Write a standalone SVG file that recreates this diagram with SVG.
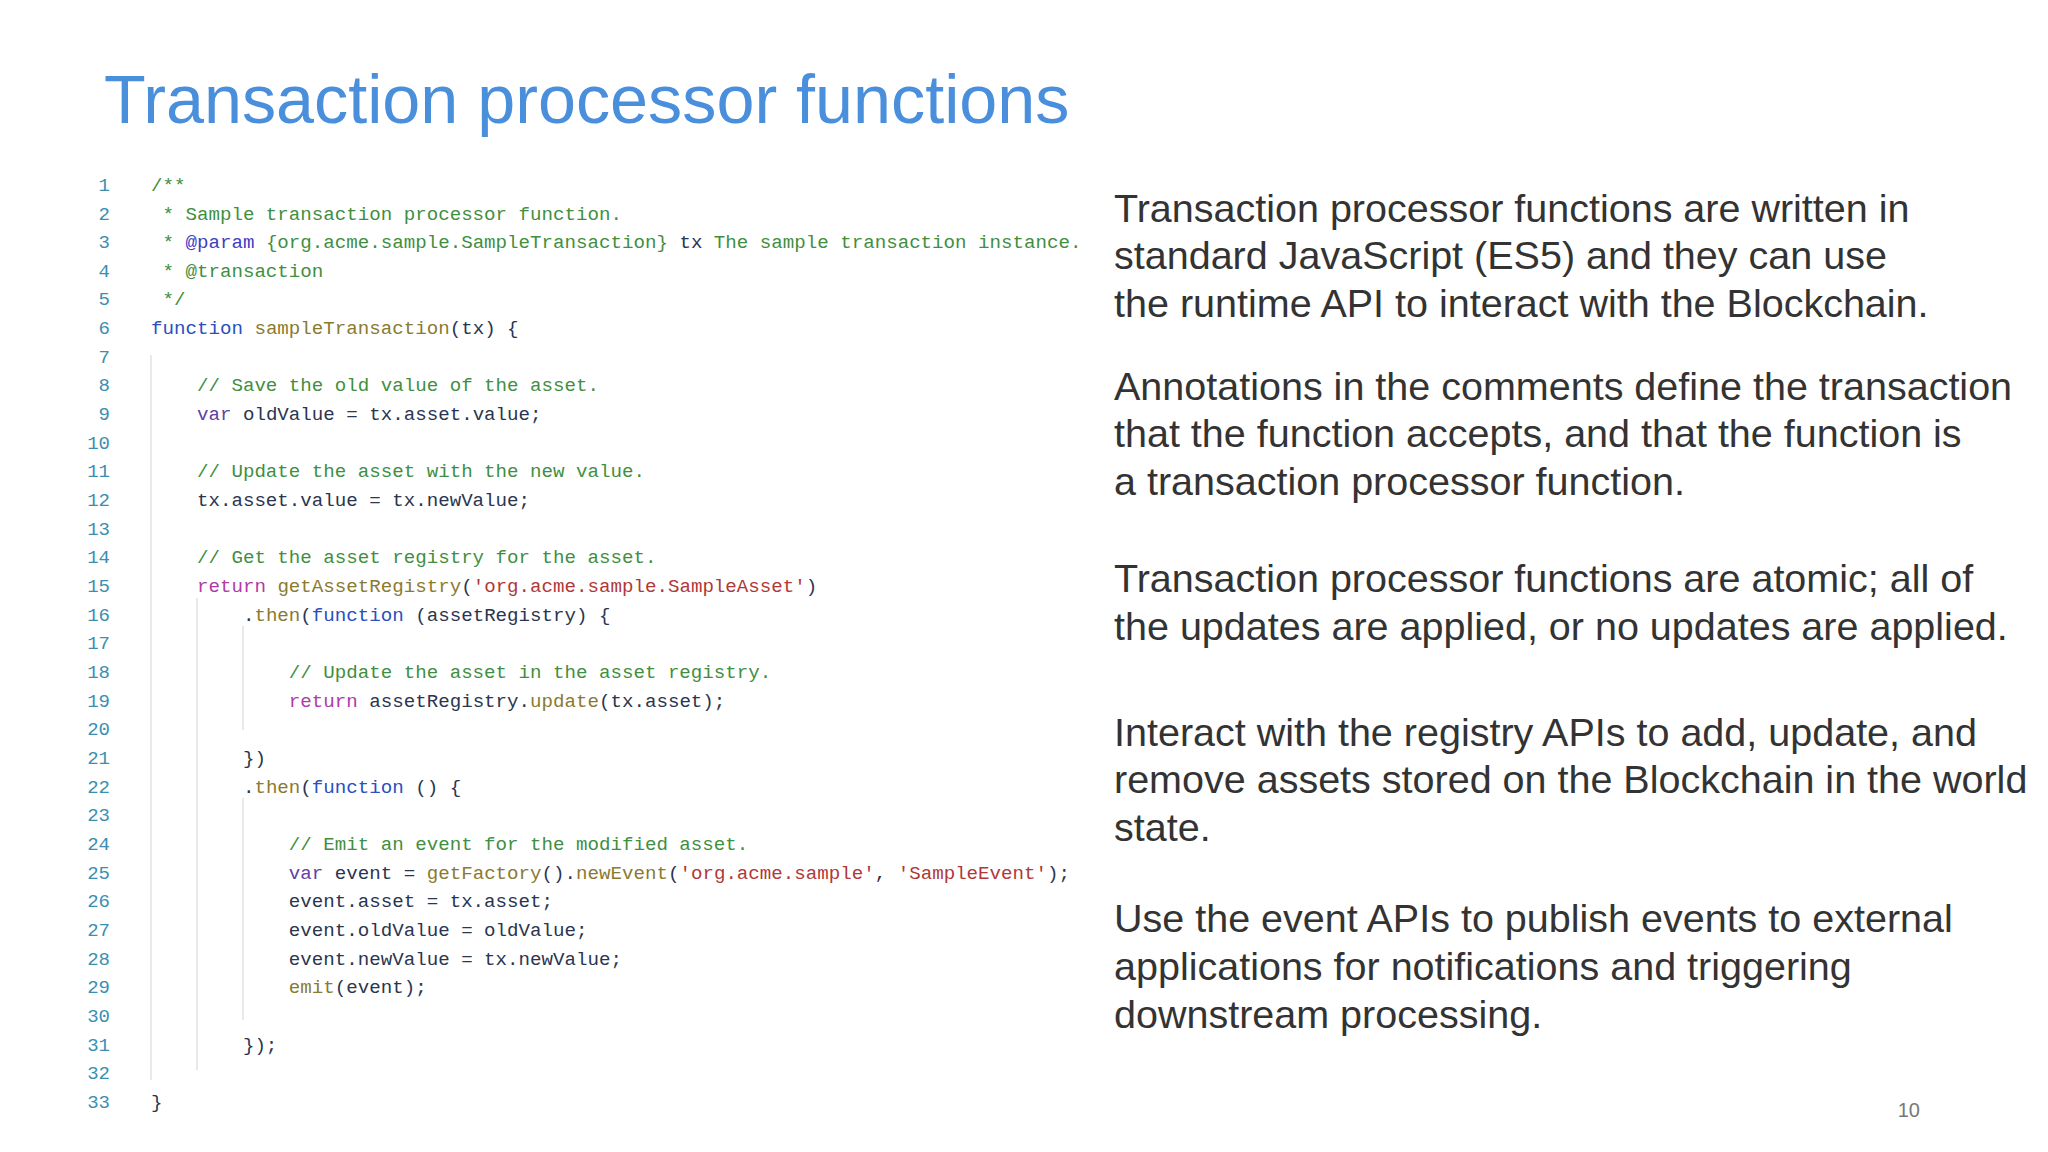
<svg xmlns="http://www.w3.org/2000/svg" width="2048" height="1152" viewBox="0 0 2048 1152">
<style>
.t{font-family:"Liberation Sans",Arial,sans-serif;font-size:39.5px;fill:#333}
.c{font-family:"Liberation Mono",monospace;font-size:19.15px;fill:#2a3550;white-space:pre}
.n{font-family:"Liberation Mono",monospace;font-size:19px;fill:#3a8fb0;text-anchor:end}
.cm{fill:#3f8f3f}.kf{fill:#2850c0}.kv{fill:#6040a8}.kr{fill:#b03aa8}.s{fill:#b03838}.m{fill:#8a7a30}.at{fill:#4040c0}
.g{stroke:#e2e2e2;stroke-width:1.5}
</style>
<rect width="2048" height="1152" fill="#fff"/>
<text x="104" y="123" font-family="'Liberation Sans',Arial,sans-serif" font-size="68.3" fill="#4a8fdc">Transaction processor functions</text>
<g id="code">
<line class="g" x1="151" y1="355" x2="151" y2="1080"/>
<line class="g" x1="197" y1="598" x2="197" y2="1070"/>
<line class="g" x1="243" y1="626" x2="243" y2="730"/>
<line class="g" x1="243" y1="798" x2="243" y2="1020"/>
<g class="n">
<text x="110" y="191">1</text><text x="110" y="220">2</text><text x="110" y="248">3</text><text x="110" y="277">4</text><text x="110" y="305">5</text><text x="110" y="334">6</text><text x="110" y="363">7</text><text x="110" y="391">8</text><text x="110" y="420">9</text><text x="110" y="449">10</text><text x="110" y="477">11</text><text x="110" y="506">12</text><text x="110" y="535">13</text><text x="110" y="563">14</text><text x="110" y="592">15</text><text x="110" y="621">16</text><text x="110" y="649">17</text><text x="110" y="678">18</text><text x="110" y="707">19</text><text x="110" y="735">20</text><text x="110" y="764">21</text><text x="110" y="793">22</text><text x="110" y="821">23</text><text x="110" y="850">24</text><text x="110" y="879">25</text><text x="110" y="907">26</text><text x="110" y="936">27</text><text x="110" y="965">28</text><text x="110" y="993">29</text><text x="110" y="1022">30</text><text x="110" y="1051">31</text><text x="110" y="1079">32</text><text x="110" y="1108">33</text>
</g>
<text class="c cm" x="151" y="191">/**</text>
<text class="c cm" x="151" y="220"> * Sample transaction processor function.</text>
<text class="c cm" x="151" y="248"> * <tspan class="at">@param</tspan> {org.acme.sample.SampleTransaction} <tspan fill="#2a3550">tx</tspan> The sample transaction instance.</text>
<text class="c cm" x="151" y="277"> * @transaction</text>
<text class="c cm" x="151" y="305"> */</text>
<text class="c" x="151" y="334"><tspan class="kf">function</tspan> <tspan class="m">sampleTransaction</tspan>(tx) {</text>
<text class="c cm" x="151" y="391">    // Save the old value of the asset.</text>
<text class="c" x="151" y="420">    <tspan class="kv">var</tspan> oldValue = tx.asset.value;</text>
<text class="c cm" x="151" y="477">    // Update the asset with the new value.</text>
<text class="c" x="151" y="506">    tx.asset.value = tx.newValue;</text>
<text class="c cm" x="151" y="563">    // Get the asset registry for the asset.</text>
<text class="c" x="151" y="592">    <tspan class="kr">return</tspan> <tspan class="m">getAssetRegistry</tspan>(<tspan class="s">'org.acme.sample.SampleAsset'</tspan>)</text>
<text class="c" x="151" y="621">        .<tspan class="m">then</tspan>(<tspan class="kf">function</tspan> (assetRegistry) {</text>
<text class="c cm" x="151" y="678">            // Update the asset in the asset registry.</text>
<text class="c" x="151" y="707">            <tspan class="kr">return</tspan> assetRegistry.<tspan class="m">update</tspan>(tx.asset);</text>
<text class="c" x="151" y="764">        })</text>
<text class="c" x="151" y="793">        .<tspan class="m">then</tspan>(<tspan class="kf">function</tspan> () {</text>
<text class="c cm" x="151" y="850">            // Emit an event for the modified asset.</text>
<text class="c" x="151" y="879">            <tspan class="kv">var</tspan> event = <tspan class="m">getFactory</tspan>().<tspan class="m">newEvent</tspan>(<tspan class="s">'org.acme.sample'</tspan>, <tspan class="s">'SampleEvent'</tspan>);</text>
<text class="c" x="151" y="907">            event.asset = tx.asset;</text>
<text class="c" x="151" y="936">            event.oldValue = oldValue;</text>
<text class="c" x="151" y="965">            event.newValue = tx.newValue;</text>
<text class="c" x="151" y="993">            <tspan class="m">emit</tspan>(event);</text>
<text class="c" x="151" y="1051">        });</text>
<text class="c" x="151" y="1108">}</text>
</g>
<g id="notes" class="t">
<text x="1114" y="222">Transaction processor functions are written in</text>
<text x="1114" y="269">standard JavaScript (ES5) and they can use</text>
<text x="1114" y="317">the runtime API to interact with the Blockchain.</text>
<text x="1114" y="400">Annotations in the comments define the transaction</text>
<text x="1114" y="447">that the function accepts, and that the function is</text>
<text x="1114" y="495">a transaction processor function.</text>
<text x="1114" y="592">Transaction processor functions are atomic; all of</text>
<text x="1114" y="640">the updates are applied, or no updates are applied.</text>
<text x="1114" y="746">Interact with the registry APIs to add, update, and</text>
<text x="1114" y="793">remove assets stored on the Blockchain in the world</text>
<text x="1114" y="841">state.</text>
<text x="1114" y="932">Use the event APIs to publish events to external</text>
<text x="1114" y="980">applications for notifications and triggering</text>
<text x="1114" y="1028">downstream processing.</text>
</g>
<text x="1920" y="1117" text-anchor="end" font-family="'Liberation Sans',Arial,sans-serif" font-size="20" fill="#777">10</text>
</svg>
